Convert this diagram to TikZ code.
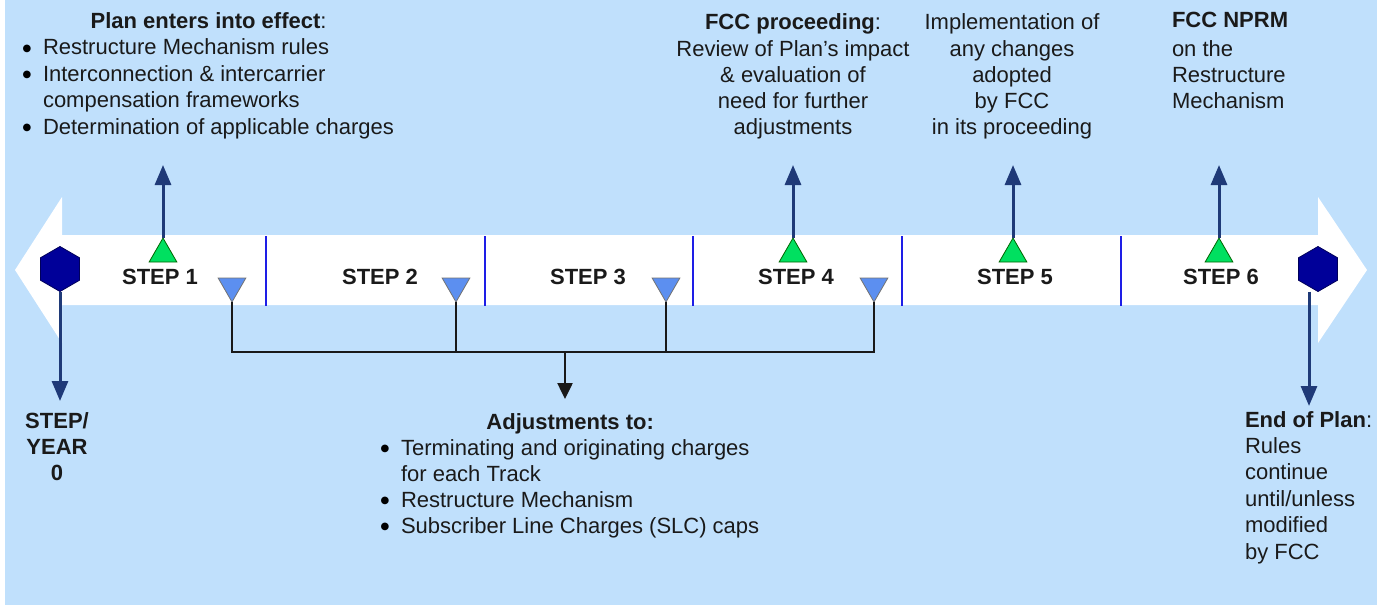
\documentclass[tikz,border=0pt]{standalone}
\usepackage{fontspec}
\setmainfont{Liberation Sans}
\newfontfamily\symfont{DejaVu Sans}
\usetikzlibrary{shapes.geometric,arrows.meta}
\definecolor{bgblue}{HTML}{C0E0FC}
\definecolor{navy}{HTML}{1F3A78}
\definecolor{hexblue}{HTML}{000099}
\definecolor{hexedge}{HTML}{00005A}
\definecolor{sepblue}{HTML}{1E1EE6}
\definecolor{upgreen}{HTML}{00E060}
\definecolor{downblue}{HTML}{5C8FF0}
\definecolor{txt}{HTML}{1A1A1A}
\newcommand{\bigbul}{\makebox[7.7pt][c]{\raisebox{3.5pt}{\fontsize{10}{10}\symfont\textcolor{black}{●}}}}
\begin{document}
\begin{tikzpicture}[x=1pt,y=-1pt,
  every node/.style={text=txt},
  textblock/.style={inner sep=0pt, outer sep=0pt},
  steplabel/.style={inner sep=0pt, font=\fontsize{22}{26}\selectfont\bfseries},
  hexmark/.style={regular polygon, regular polygon sides=6, shape border rotate=30,
    minimum size=45pt, inner sep=0pt, outer sep=0pt, fill=hexblue, draw=hexedge, line width=0.8pt},
  upmark/.style={regular polygon, regular polygon sides=3, minimum size=32pt,
    inner sep=0pt, outer sep=0pt, fill=upgreen, draw=black!60!green, line width=0.8pt},
  downmark/.style={regular polygon, regular polygon sides=3, shape border rotate=180,
    minimum size=32pt, inner sep=0pt, outer sep=0pt, fill=downblue, draw=black!55, line width=0.8pt},
  sepline/.style={draw=sepblue, line width=2.8pt},
  navyarrow/.style={draw=navy, line width=3pt, -{Triangle[width=16pt,length=20pt]}},
  bracket/.style={draw=black!90, line width=2.5pt},
]
\useasboundingbox (0,0) rectangle (1386,605);
\fill[white] (0,0) rectangle (1386,605);
\fill[bgblue] (5,0) rectangle (1377,605);

% big double-headed timeline arrow
\fill[white] (15,270) -- (62,197) -- (62,235) -- (1318,235) -- (1318,197) -- (1367,270)
  -- (1318,343) -- (1318,305) -- (62,305) -- (62,343) -- cycle;

% step separators
\foreach \x in {266,485,693,902,1121} \draw[sepline] (\x,236) -- (\x,306);

% step labels
\node[steplabel] (s1) at (160,277) {STEP 1};
\node[steplabel] (s2) at (380,277) {STEP 2};
\node[steplabel] (s3) at (588,277) {STEP 3};
\node[steplabel] (s4) at (796,277) {STEP 4};
\node[steplabel] (s5) at (1015,277) {STEP 5};
\node[steplabel] (s6) at (1221,277) {STEP 6};

% hexagons
\node[hexmark] (h0) at (60,269) {};
\node[hexmark] (h7) at (1318,269) {};

% green up markers
\node[upmark] (u1) at (163,254) {};
\node[upmark] (u4) at (793,254) {};
\node[upmark] (u5) at (1013,254) {};
\node[upmark] (u6) at (1219,254) {};

% blue down markers
\node[downmark] (d1) at (232,286) {};
\node[downmark] (d2) at (456,286) {};
\node[downmark] (d3) at (666,286) {};
\node[downmark] (d4) at (874,286) {};

% text blocks
\node[textblock, anchor=north west, font=\fontsize{22}{26.5}\selectfont] (plan) at (23.15,9.45)
 {\begin{tabular}{@{}l@{\hspace{12.15pt}}l@{}}
  \multicolumn{2}{c}{\textbf{Plan enters into effect}:}\\
  \bigbul & Restructure Mechanism rules\\
  \bigbul & Interconnection \& intercarrier\\
   & compensation frameworks\\
  \bigbul & Determination of applicable charges
 \end{tabular}};

\node[textblock, anchor=north, font=\fontsize{22}{26.25}\selectfont] (fccp) at (793,11.6)
 {\begin{tabular}{@{}c@{}}
  \textbf{FCC proceeding}:\\
  Review of Plan's impact\\
  \& evaluation of\\
  need for further\\
  adjustments
 \end{tabular}};

\node[textblock, anchor=north, font=\fontsize{22}{26.25}\selectfont] (impl) at (1012,11.6)
 {\begin{tabular}{@{}c@{}}
  Implementation of\\
  any changes\\
  adopted\\
  by FCC\\
  in its proceeding
 \end{tabular}};

\node[textblock, anchor=north west, font=\fontsize{22}{26.25}\selectfont] (nprm) at (1172,9.6)
 {\begin{tabular}{@{}l@{}}
  \textbf{FCC NPRM}\\[2pt]
  on the\\
  Restructure\\
  Mechanism
 \end{tabular}};

\node[textblock, anchor=north, font=\fontsize{22}{26}\selectfont\bfseries] (year0) at (57,409.8)
 {\begin{tabular}{@{}c@{}}
  STEP/\\
  YEAR\\
  0
 \end{tabular}};

\node[textblock, anchor=north west, font=\fontsize{22}{26}\selectfont] (adj) at (381.15,410.8)
 {\begin{tabular}{@{}l@{\hspace{12.15pt}}l@{}}
  \multicolumn{2}{c}{\textbf{Adjustments to:}}\\
  \bigbul & Terminating and originating charges\\
   & for each Track\\
  \bigbul & Restructure Mechanism\\
  \bigbul & Subscriber Line Charges (SLC) caps
 \end{tabular}};

\node[textblock, anchor=north west, font=\fontsize{22}{26.4}\selectfont] (endp) at (1245,408.52)
 {\begin{tabular}{@{}l@{}}
  \textbf{End of Plan}:\\
  Rules\\
  continue\\
  until/unless\\
  modified\\
  by FCC
 \end{tabular}};

% up arrows to the upper notes
\coordinate (t1) at (163,165);
\coordinate (t4) at (793,165);
\coordinate (t5) at (1013,165);
\coordinate (t6) at (1219,165);
\draw[navyarrow] (u1.north) -- (t1);
\draw[navyarrow] (u4.north) -- (t4);
\draw[navyarrow] (u5.north) -- (t5);
\draw[navyarrow] (u6.north) -- (t6);

% down arrows from the hexagons
\coordinate (e0) at (60,401);
\coordinate (e7) at (1309,406);
\draw[navyarrow] (h0.south) -- (e0);
\draw[navyarrow] ([xshift=-9pt]h7.south) -- (e7);

% bracket collecting the adjustment markers
\coordinate (bar) at (565,352);
\coordinate (adjtip) at (565,399);
\draw[bracket] (d1.south) |- (bar) -| (d4.south);
\draw[bracket] (d2.south) -- (d2.south |- bar);
\draw[bracket] (d3.south) -- (d3.south |- bar);
\draw[bracket, -{Triangle[width=15pt,length=16pt]}] (bar) -- (adjtip);
\end{tikzpicture}
\end{document}
